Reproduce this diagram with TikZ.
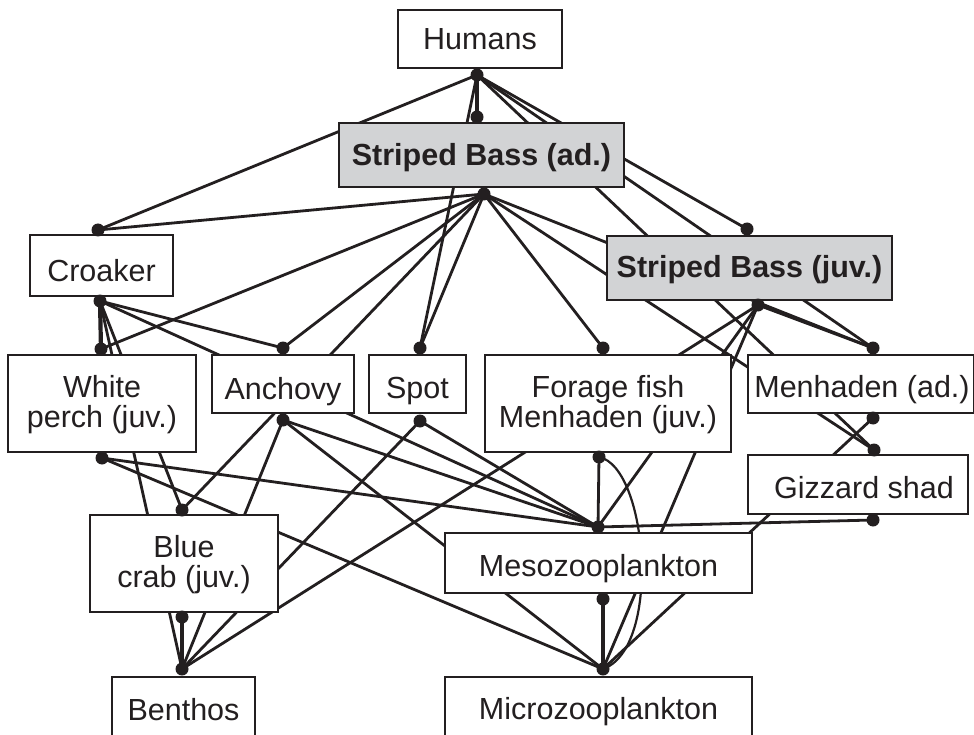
\documentclass[tikz,border=0pt]{standalone}
\usepackage{fontspec}
\setmainfont{Liberation Sans}
\definecolor{ink}{HTML}{231F20}
\definecolor{boxgray}{HTML}{D2D3D5}
\begin{document}
\begin{tikzpicture}[x=1pt,y=-1pt,
  edge/.style={draw=ink, line width=2.8pt},
  heavy/.style={draw=ink, line width=4.2pt},
  box/.style={draw=ink, line width=2pt, fill=white, rectangle, inner sep=0pt},
  gbox/.style={box, fill=boxgray},
  lbl/.style={anchor=base, inner sep=0pt, text=ink, font=\fontsize{30.5}{32}\selectfont},
  blbl/.style={lbl, font=\fontsize{30.5}{32}\selectfont\bfseries}]
\useasboundingbox (0,0) rectangle (974,735);
% connection points
\coordinate (hb) at (477,75);
\coordinate (sbat) at (477,117);
\coordinate (sbab) at (484,194);
\coordinate (crt) at (98,230);
\coordinate (crb) at (100,301);
\coordinate (sbjt) at (747,229);
\coordinate (sbjb) at (758,305);
\coordinate (wpt) at (101,349);
\coordinate (ant) at (283,348);
\coordinate (spt) at (420,348);
\coordinate (fft) at (603,348);
\coordinate (mat) at (873,348);
\coordinate (wpb) at (102,458);
\coordinate (anb) at (283,420);
\coordinate (spb) at (420,421);
\coordinate (ffb) at (599,457);
\coordinate (mab) at (873,418);
\coordinate (gst) at (874,450);
\coordinate (gsb) at (873,520);
\coordinate (bct) at (182,510);
\coordinate (mzt) at (598,527);
\coordinate (bcb) at (182,617);
\coordinate (bet) at (182,669);
\coordinate (mzb) at (603,599);
\coordinate (mit) at (603,669);
% connectors
\draw[heavy] (hb) -- (sbat);
\draw[edge] (hb) -- (crt);
\draw[edge] (hb) -- (spt);
\draw[edge] (hb) -- (sbjt);
\draw[edge] (hb) -- (mat);
\draw[edge] (hb) -- (gst);
\draw[edge] (sbab) -- (crt);
\draw[edge] (sbab) -- (wpt);
\draw[edge] (sbab) -- (ant);
\draw[edge] (sbab) -- (spt);
\draw[edge] (sbab) -- (bct);
\draw[edge] (sbab) -- (fft);
\draw[edge] (sbab) -- (mat);
\draw[edge] (sbab) -- (gst);
\draw[heavy] (crb) -- (wpt);
\draw[edge] (crb) -- (ant);
\draw[edge] (crb) -- (mzt);
\draw[edge] (crb) -- (bct);
\draw[edge] (crb) -- (bet);
\draw[edge] (sbjb) -- (mat);
\draw[edge] (sbjb) -- (bet);
\draw[edge] (sbjb) -- (mzt);
\draw[edge] (sbjb) -- (mit);
\draw[edge] (wpb) -- (mzt);
\draw[edge] (wpb) -- (mit);
\draw[edge] (anb) -- (bet);
\draw[edge] (anb) -- (mzt);
\draw[edge] (anb) -- (mit);
\draw[edge] (spb) -- (bet);
\draw[edge] (spb) -- (mzt);
\draw[edge] (ffb) -- (mzt);
\draw[draw=ink, line width=2.2pt] (ffb) .. controls (648,467) and (662,648) .. (mit);
\draw[edge] (mab) -- (mit);
\draw[edge] (gsb) -- (mzt);
\draw[heavy] (bcb) -- (bet);
\draw[heavy] (mzb) -- (mit);
% boxes
\node[box, minimum width=164pt, minimum height=58pt] (hum) at (480,39) {};
\node[gbox, minimum width=285pt, minimum height=64pt] (sba) at (481.5,155.5) {};
\node[box, minimum width=143pt, minimum height=60pt] (cro) at (101.5,265.5) {};
\node[gbox, minimum width=285pt, minimum height=64pt] (sbj) at (749.5,268) {};
\node[box, minimum width=188pt, minimum height=97pt] (wp) at (102,403.5) {};
\node[box, minimum width=142pt, minimum height=58pt] (anc) at (283,384) {};
\node[box, minimum width=97pt, minimum height=58pt] (spot) at (417.5,384) {};
\node[box, minimum width=246pt, minimum height=97pt] (ff) at (608,403.5) {};
\node[box, minimum width=226pt, minimum height=58pt] (mad) at (861,384) {};
\node[box, minimum width=220pt, minimum height=59pt] (gs) at (858,484.5) {};
\node[box, minimum width=188pt, minimum height=97pt] (bc) at (184,563.5) {};
\node[box, minimum width=307pt, minimum height=60pt] (meso) at (598.5,563) {};
\node[box, minimum width=143pt, minimum height=62pt] (ben) at (183.5,708) {};
\node[box, minimum width=307pt, minimum height=62pt] (micro) at (598.5,708) {};
% labels
\node[lbl] (thum) at (480,50) {Humans};
\node[blbl] (tsba) at (481.5,166) {Striped Bass (ad.)};
\node[lbl] (tcro) at (101.5,281) {Croaker};
\node[blbl] (tsbj) at (749.5,278) {Striped Bass (juv.)};
\node[lbl] (twp1) at (102,397) {White};
\node[lbl] (twp2) at (102,427) {perch (juv.)};
\node[lbl] (tanc) at (283,399) {Anchovy};
\node[lbl] (tspot) at (417.5,398) {Spot};
\node[lbl] (tff1) at (608,397) {Forage fish};
\node[lbl] (tff2) at (608,427) {Menhaden (juv.)};
\node[lbl] (tmad) at (862,397) {Menhaden (ad.)};
\node[lbl] (tgs) at (864,498) {Gizzard shad};
\node[lbl] (tbc1) at (184,557) {Blue};
\node[lbl] (tbc2) at (184,587) {crab (juv.)};
\node[lbl] (tmeso) at (598.5,576) {Mesozooplankton};
\node[lbl] (tben) at (183.5,720) {Benthos};
\node[lbl] (tmicro) at (598.5,719) {Microzooplankton};
% dots
\foreach \p in {hb,sbat,sbab,crt,crb,sbjt,sbjb,wpt,ant,spt,fft,mat,wpb,anb,spb,ffb,mab,gst,gsb,bct,mzt,bcb,bet,mzb,mit}
  \fill[ink] (\p) circle[radius=6.5pt];
\end{tikzpicture}
\end{document}
